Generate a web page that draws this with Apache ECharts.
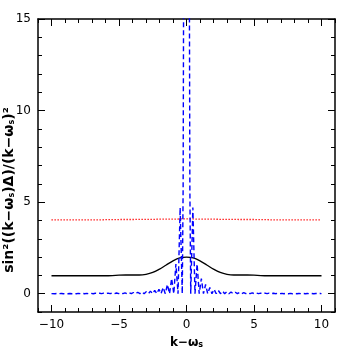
<!DOCTYPE html>
<html>
<head>
<meta charset="utf-8">
<script src="https://cdn.jsdelivr.net/npm/echarts@6/dist/echarts.min.js"></script>
<style>html,body{margin:0;padding:0;background:#fff}#c{width:354px;height:354px}</style>
</head>
<body>
<div id="c"></div>
<script>
// ---- data ----
const kGrid = [-10,-9.5,-9,-8.5,-8,-7.5,-7,-6.5,-6,-5.5,-5,-4.5,-4,-3.5,-3,-2.5,-2,-1.5,-1,-0.5,0,0.5,1,1.5,2,2.5,3,3.5,4,4.5,5,5.5,6,6.5,7,7.5,8,8.5,9,9.5,10];
const redVals = [4.03,4.03,4.03,4.03,4.03,4.03,4.03,4.03,4.04,4.04,4.05,4.05,4.05,4.06,4.06,4.06,4.07,4.07,4.07,4.08,4.08,4.08,4.07,4.07,4.07,4.06,4.06,4.06,4.05,4.05,4.05,4.04,4.04,4.03,4.03,4.03,4.03,4.03,4.03,4.03,4.03];
const blackVals = [0.98,0.98,0.98,0.98,0.98,0.98,0.98,0.98,0.98,0.99,1.01,1.02,1.02,1.02,1.06,1.16,1.34,1.57,1.79,1.95,2.0,1.95,1.79,1.57,1.34,1.16,1.06,1.02,1.02,1.02,1.01,0.99,0.98,0.98,0.98,0.98,0.98,0.98,0.98,0.98,0.98];
const kBlue = [-10,-9.896,-9.739,-9.582,-9.425,-9.268,-9.111,-8.954,-8.796,-8.639,-8.482,-8.325,-8.168,-8.011,-7.854,-7.697,-7.54,-7.383,-7.226,-7.069,-6.912,-6.754,-6.597,-6.44,-6.283,-6.126,-5.969,-5.812,-5.655,-5.498,-5.341,-5.184,-5.027,-4.869,-4.712,-4.555,-4.398,-4.241,-4.084,-3.927,-3.77,-3.613,-3.456,-3.299,-3.142,-2.985,-2.827,-2.67,-2.513,-2.356,-2.199,-2.042,-1.885,-1.728,-1.571,-1.414,-1.257,-1.1,-0.942,-0.785,-0.628,-0.471,-0.314,-0.25,-0.2,-0.1,0,
  0.1,0.2,0.25,0.314,0.471,0.628,0.785,0.942,1.1,1.257,1.414,1.571,1.728,1.885,2.042,2.199,2.356,2.513,2.67,2.827,2.985,3.142,3.299,3.456,3.613,3.77,3.927,4.084,4.241,4.398,4.555,4.712,4.869,5.027,5.184,5.341,5.498,5.655,5.812,5.969,6.126,6.283,6.44,6.597,6.754,6.912,7.069,7.226,7.383,7.54,7.697,7.854,8.011,8.168,8.325,8.482,8.639,8.796,8.954,9.111,9.268,9.425,9.582,9.739,9.896,10];
const blueVals = [0.003,0.010,0,0.011,0,0.012,0,0.013,0,0.013,0,0.014,0,0.016,0,0.017,0,0.018,0,0.020,0,0.022,0,0.024,0,0.027,0,0.030,0,0.033,0,0.037,0,0.042,0,0.048,0,0.056,0,0.065,0,0.077,0,0.092,0,0.112,0,0.140,0,0.180,0,0.240,0,0.335,0,0.500,0,0.827,0,1.62,0,4.70,0,5.7,20.7,70.8,100,
  70.8,20.7,5.7,0,4.70,0,1.62,0,0.827,0,0.500,0,0.335,0,0.240,0,0.180,0,0.140,0,0.112,0,0.092,0,0.077,0,0.065,0,0.056,0,0.048,0,0.042,0,0.037,0,0.033,0,0.030,0,0.027,0,0.024,0,0.022,0,0.020,0,0.018,0,0.017,0,0.016,0,0.014,0,0.013,0,0.013,0,0.012,0,0.011,0,0.010,0.003];
const xMajor = [-10,-5,0,5,10];
const yMajor = [0,5,10,15];
const xRange = [-11, 11];
const yRange = [-1, 15];

// ---- chart ----
const FONT = 'DejaVu Sans';
const fmt = v => (v < 0 ? '\u2212' + (-v) : String(v));
function axisPair(pos, range, major, labels) {
  const base = {
    type: 'value', position: pos, min: range[0], max: range[1],
    splitLine: { show: false }, scale: false
  };
  const a = Object.assign({}, base, {
    interval: 1,
    axisLine: { show: true, onZero: false, lineStyle: { color: '#000', width: 1.5 } },
    axisTick: { show: true, inside: true, length: 4, lineStyle: { color: '#000', width: 1 } },
    axisLabel: labels ? { show: true, customValues: major, formatter: fmt, color: '#000', fontSize: 12, fontFamily: FONT, margin: 7 } : { show: false }
  });
  const b = Object.assign({}, base, {
    axisLine: { show: false, onZero: false },
    axisTick: { show: true, inside: true, length: 7, customValues: major, lineStyle: { color: '#000', width: 1 } },
    axisLabel: { show: false }
  });
  return [a, b];
}
const xAxes = [].concat(axisPair('bottom', xRange, xMajor, true), axisPair('top', xRange, xMajor, false));
const yAxes = [].concat(axisPair('left', yRange, yMajor, true), axisPair('right', yRange, yMajor, false));
xAxes[0].name = 'k\u2212\u03c9{s|s}';
xAxes[0].nameLocation = 'middle';
xAxes[0].nameGap = 25;
xAxes[0].nameTextStyle = { color: '#000', fontSize: 12, fontWeight: 'bold', fontFamily: FONT,
  rich: { s: { fontSize: 8, fontWeight: 'bold', fontFamily: FONT, verticalAlign: 'bottom', color: '#000' } } };

const chart = echarts.init(document.getElementById('c'), null, { renderer: 'canvas' });
chart.setOption({
  animation: false,
  backgroundColor: '#fff',
  grid: { left: 38, right: 19, top: 19, bottom: 38, containLabel: false },
  xAxis: xAxes,
  yAxis: yAxes,
  graphic: [{
    type: 'text', x: 9, y: 190, rotation: Math.PI / 2,
    style: {
      text: 'sin\u00b2((k\u2212\u03c9{s|s})\u0394)/(k\u2212\u03c9{s|s})\u00b2',
      font: 'bold 14px "DejaVu Sans"', fill: '#000', align: 'center', verticalAlign: 'middle',
      rich: { s: { fontSize: 8, fontWeight: 'bold', fontFamily: FONT, verticalAlign: 'bottom', fill: '#000' } }
    }
  }],
  series: [
    { type: 'line', name: 'red', xAxisIndex: 0, yAxisIndex: 0, showSymbol: false, clip: true,
      data: kGrid.map((k, i) => [k, redVals[i]]),
      lineStyle: { color: '#ff0000', width: 1.3, type: [1.3, 1.7] } },
    { type: 'line', name: 'black', xAxisIndex: 0, yAxisIndex: 0, showSymbol: false, clip: true, smooth: 0.25,
      data: kGrid.map((k, i) => [k, blackVals[i]]),
      lineStyle: { color: '#000', width: 1.3 } },
    { type: 'line', name: 'blue', xAxisIndex: 0, yAxisIndex: 0, showSymbol: false, clip: true,
      data: kBlue.map((k, i) => [k, blueVals[i]]),
      lineStyle: { color: '#0000ff', width: 1.4, type: [5, 3] } }
  ]
});
</script>
</body>
</html>
